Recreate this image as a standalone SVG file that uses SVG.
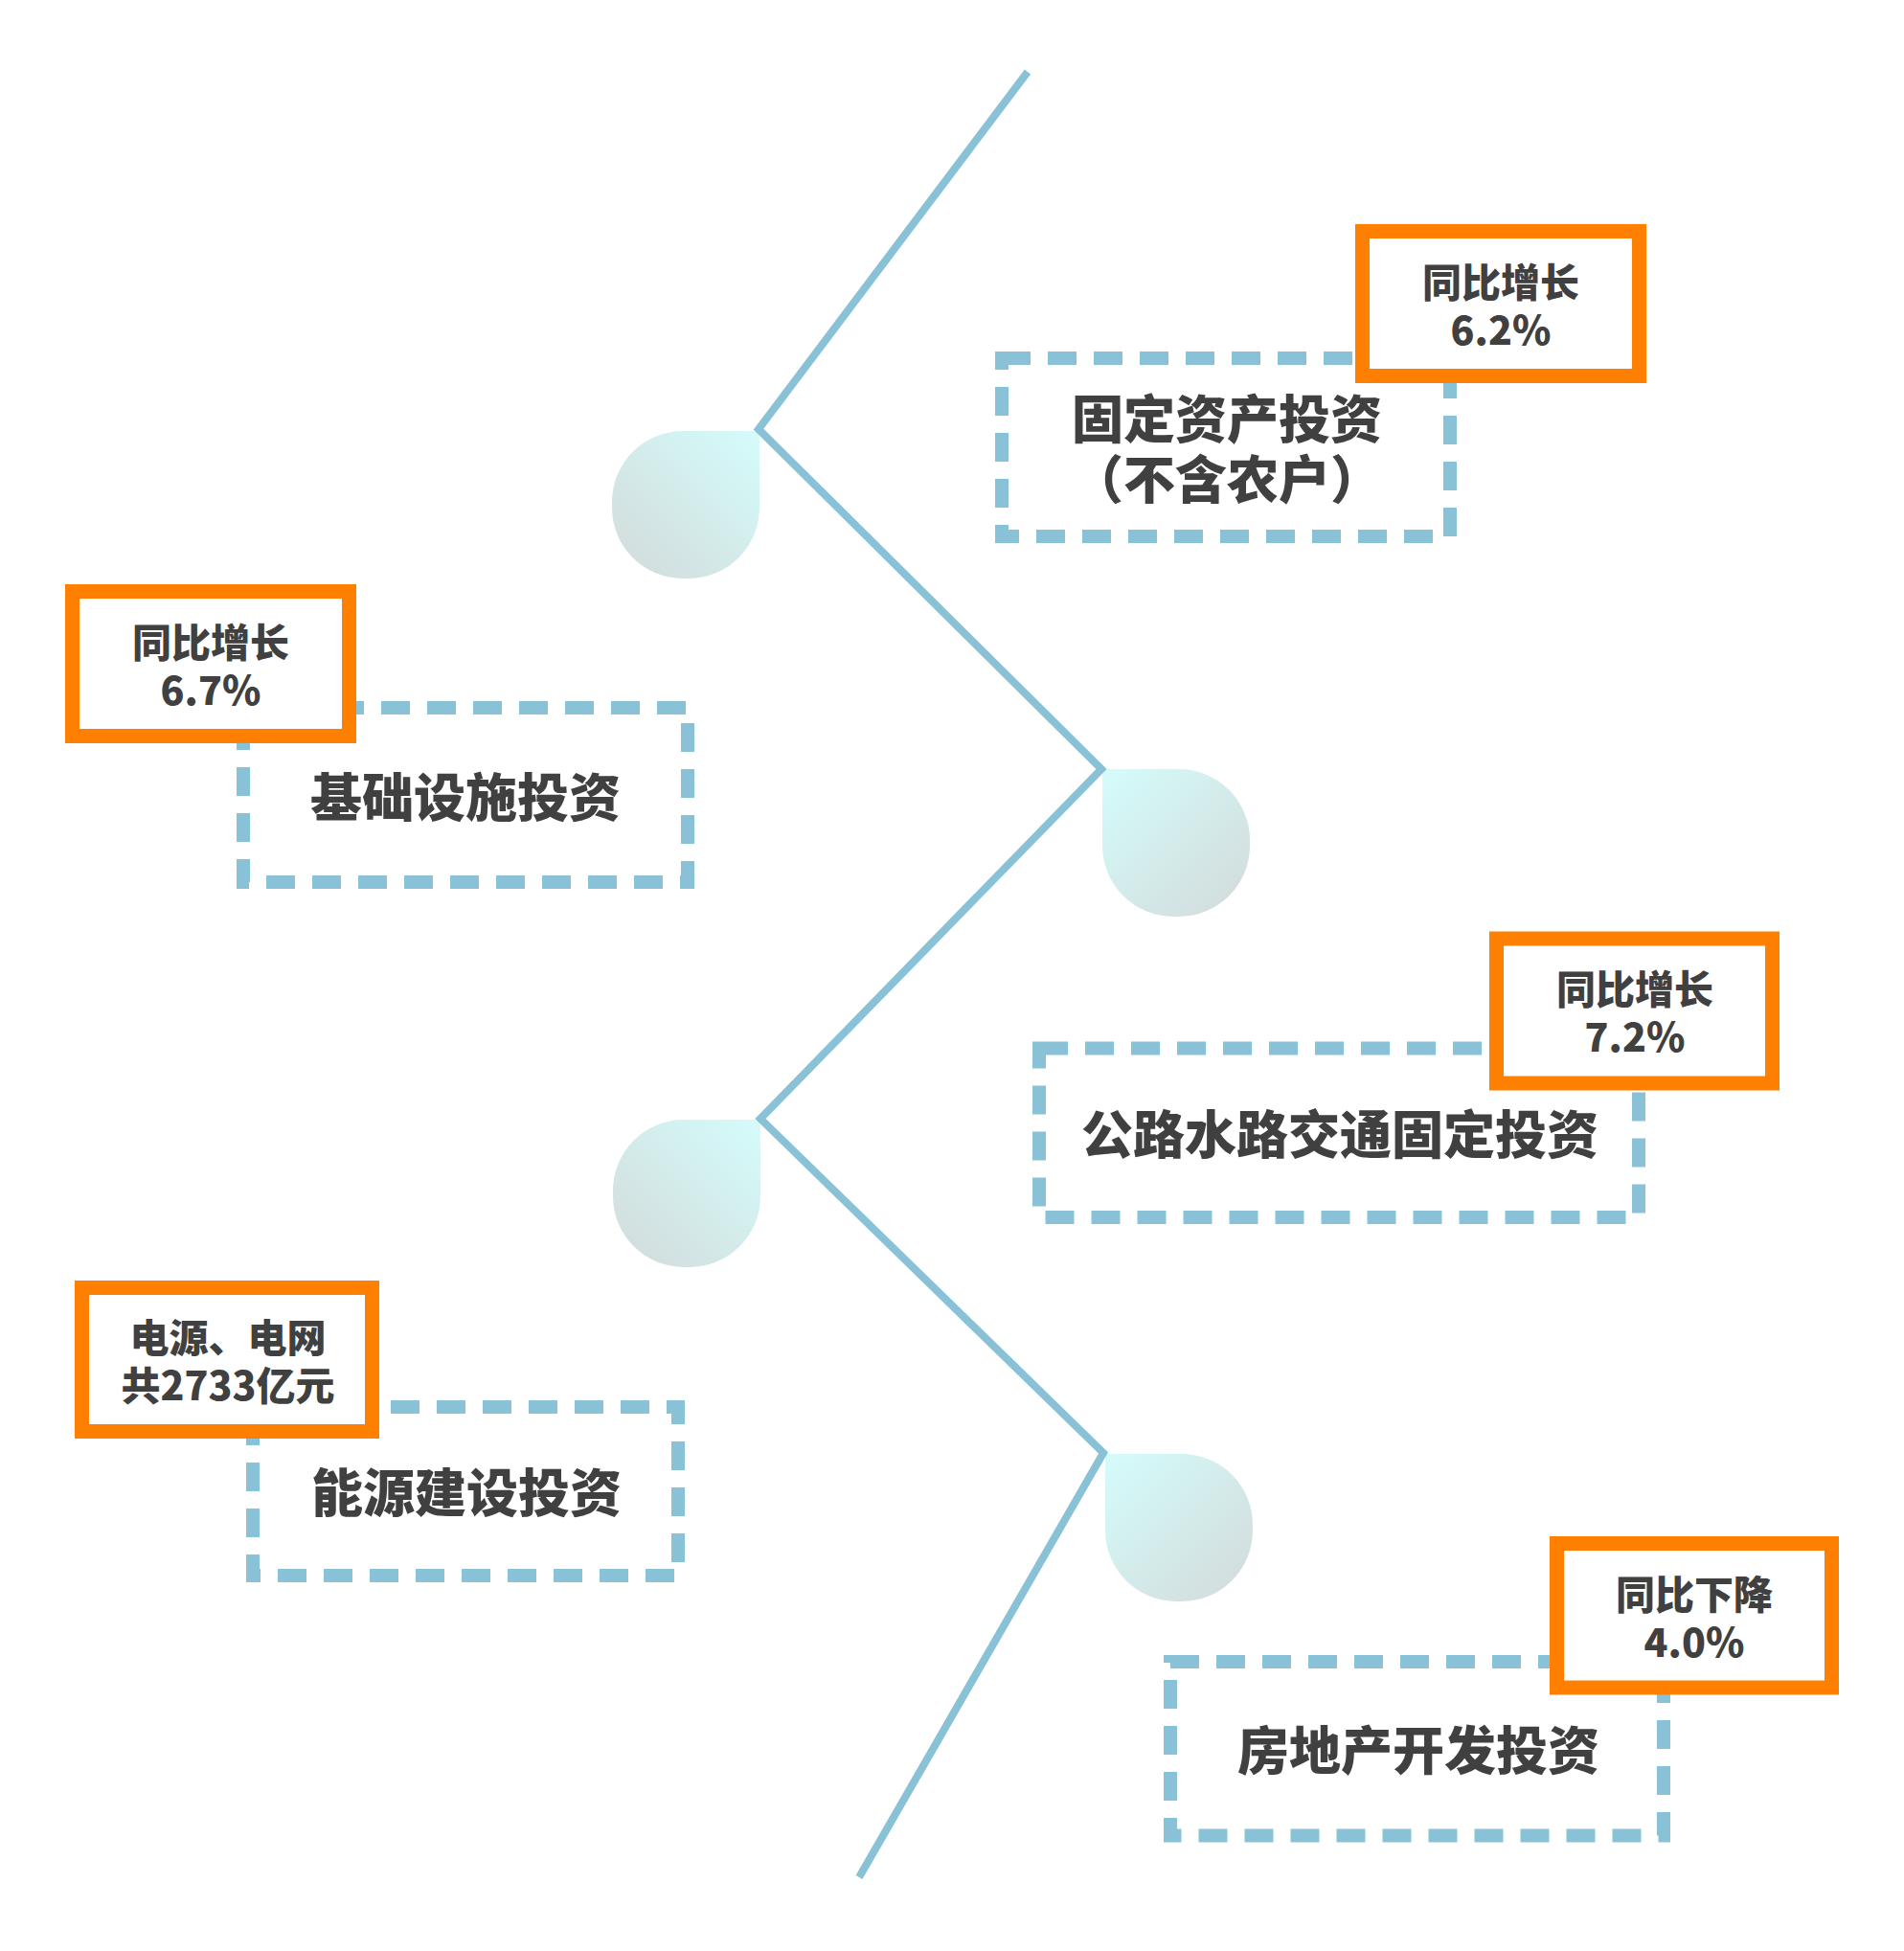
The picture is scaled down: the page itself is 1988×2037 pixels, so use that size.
<svg xmlns="http://www.w3.org/2000/svg" width="1988" height="2037" viewBox="0 0 1988 2037">
<defs>
<linearGradient id="gL" x1="1" y1="0" x2="0" y2="1"><stop offset="0" stop-color="#D4FCFB"/><stop offset="1" stop-color="#D3DADA"/></linearGradient>
<linearGradient id="gR" x1="0" y1="0" x2="1" y2="1"><stop offset="0" stop-color="#D4FCFB"/><stop offset="1" stop-color="#D3DADA"/></linearGradient>
<style>
.dash{fill:none;stroke:#89C2D7;stroke-width:14;stroke-dasharray:30 18;}
.tag{fill:#FFFFFF;stroke:#FF8000;stroke-width:15;}
.main{font-family:"Noto Sans CJK SC","Noto Sans",sans-serif;font-weight:900;font-size:54px;fill:#404040;text-anchor:middle;}
.small{font-family:"Noto Sans CJK SC","Noto Sans",sans-serif;font-weight:900;font-size:41px;fill:#404040;text-anchor:middle;}
.link{fill:none;stroke:#89C2D7;stroke-width:8;stroke-linejoin:miter;}
</style>
</defs>
<rect width="1988" height="2037" fill="#FFFFFF"/>
<g id="drops">
<path id="drop1" d="M793,450 L793,530 A74,74 0 0 1 719,604 L713,604 A74,74 0 0 1 639,530 L639,524 A74,74 0 0 1 713,450 Z" fill="url(#gL)"/>
<path id="drop2" d="M1151,803 L1231,803 A74,74 0 0 1 1305,877 L1305,883 A74,74 0 0 1 1231,957 L1225,957 A74,74 0 0 1 1151,883 Z" fill="url(#gR)"/>
<path id="drop3" d="M794,1169 L794,1249 A74,74 0 0 1 720,1323 L714,1323 A74,74 0 0 1 640,1249 L640,1243 A74,74 0 0 1 714,1169 Z" fill="url(#gL)"/>
<path id="drop4" d="M1154,1518 L1234,1518 A74,74 0 0 1 1308,1592 L1308,1598 A74,74 0 0 1 1234,1672 L1228,1672 A74,74 0 0 1 1154,1598 Z" fill="url(#gR)"/>
</g>
<g id="connectors">
<polyline class="link" points="1073,75 792,448 1150,803 794,1168 1152,1517 897,1960"/>
</g>
<g id="node1">
<rect class="dash" x="1046" y="374" width="468" height="186"/>
<text class="main" x="1281" y="458">固定资产投资</text>
<text class="main" x="1281" y="521">（不含农户）</text>
<rect class="tag" x="1422.5" y="241.5" width="289" height="151"/>
<text class="small" x="1567" y="310">同比增长</text>
<text class="small" x="1567" y="360">6.2%</text>
</g>
<g id="node2">
<rect class="dash" x="254" y="739" width="464" height="182"/>
<text class="main" x="486" y="853">基础设施投资</text>
<rect class="tag" x="75.5" y="617.5" width="289" height="151"/>
<text class="small" x="220" y="686">同比增长</text>
<text class="small" x="220" y="736">6.7%</text>
</g>
<g id="node3">
<rect class="dash" x="1085" y="1094.5" width="626" height="176.5"/>
<text class="main" x="1399" y="1205">公路水路交通固定投资</text>
<rect class="tag" x="1562.5" y="980" width="288" height="151"/>
<text class="small" x="1707" y="1048">同比增长</text>
<text class="small" x="1707" y="1098">7.2%</text>
</g>
<g id="node4">
<rect class="dash" x="264" y="1469" width="444" height="176"/>
<text class="main" x="487" y="1579">能源建设投资</text>
<rect class="tag" x="85.5" y="1344.5" width="303" height="150"/>
<text class="small" x="238" y="1412">电源、电网</text>
<text class="small" x="238" y="1462">共2733亿元</text>
</g>
<g id="node5">
<rect class="dash" x="1222" y="1735" width="515" height="181.5"/>
<text class="main" x="1481" y="1848">房地产开发投资</text>
<rect class="tag" x="1625.5" y="1611.5" width="287" height="150.5"/>
<text class="small" x="1769" y="1680">同比下降</text>
<text class="small" x="1769" y="1730">4.0%</text>
</g>
</svg>
